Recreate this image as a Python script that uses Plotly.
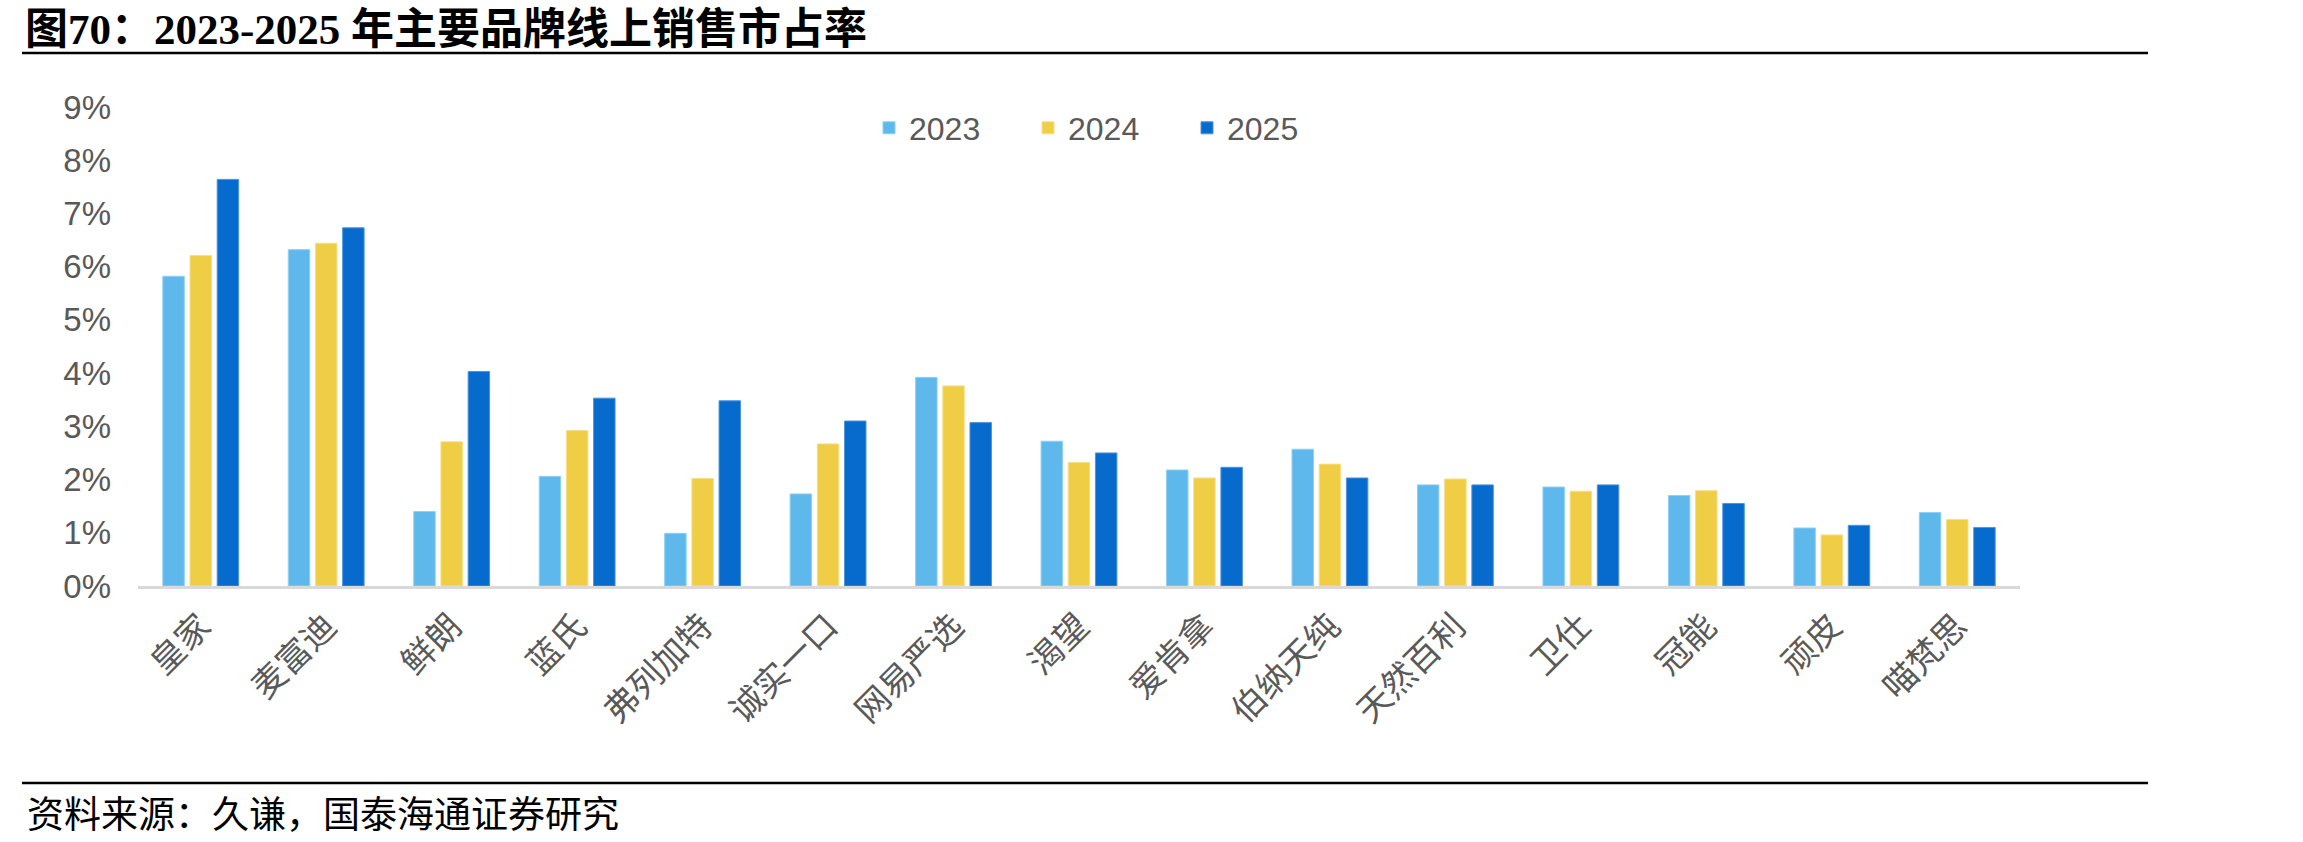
import plotly.graph_objects as go

# ---------------- data ----------------
brands = ["皇家", "麦富迪", "鲜朗", "蓝氏", "弗列加特", "诚实一口", "网易严选", "渴望",
          "爱肯拿", "伯纳天纯", "天然百利", "卫仕", "冠能", "顽皮", "喵梵思"]
share_2023 = [5.82, 6.32, 1.40, 2.06, 0.99, 1.73, 3.92, 2.72, 2.18, 2.57, 1.90, 1.86, 1.70, 1.09, 1.38]
share_2024 = [6.21, 6.44, 2.71, 2.92, 2.02, 2.67, 3.76, 2.32, 2.03, 2.29, 2.01, 1.78, 1.79, 0.96, 1.25]
share_2025 = [7.64, 6.73, 4.03, 3.53, 3.48, 3.10, 3.07, 2.50, 2.23, 2.03, 1.90, 1.90, 1.55, 1.14, 1.10]
series_names = ["2023", "2024", "2025"]
y_tick_vals = [0, 1, 2, 3, 4, 5, 6, 7, 8, 9]
y_tick_text = ["0%", "1%", "2%", "3%", "4%", "5%", "6%", "7%", "8%", "9%"]

title_text = "图70：2023-2025 年主要品牌线上销售市占率"
source_text = "资料来源：久谦，国泰海通证券研究"

# ---------------- layout geometry (pixels) ----------------
W, H = 2303, 842
PL, PR = 138, 2020      # plot area left/right
PT, PB = 107, 586       # plot area top/bottom

def px_x(px):
    return (px - PL) / (PR - PL)

def px_y(py):
    return (PB - py) / (PB - PT)

colors = ["#5EB8EC", "#EFCD45", "#066BCC"]
edge = ["#8FD0F5", "#F7DF86", "#4D95DB"]
tick_color = "#595959"
cjk = "Noto Sans CJK SC"

fig = go.Figure()
for name, vals, c, e in zip(series_names, [share_2023, share_2024, share_2025], colors, edge):
    fig.add_trace(go.Bar(
        x=brands, y=vals, name=name,
        marker=dict(color=c, line=dict(color=e, width=1)),
        hoverinfo="x+y+name",
    ))

fig.update_layout(
    width=W, height=H,
    autosize=False,
    margin=dict(l=PL, r=W - PR, t=PT, b=H - PB, pad=0, autoexpand=False),
    paper_bgcolor="white",
    plot_bgcolor="white",
    barmode="group",
    bargap=0.35,
    bargroupgap=0.21,
    showlegend=True,
    legend=dict(
        orientation="h",
        xref="container", yref="container",
        x=869 / W, y=1 - 128 / H,
        xanchor="left", yanchor="middle",
        font=dict(family="Liberation Sans, Arial, sans-serif", size=32, color=tick_color),
        entrywidth=114, entrywidthmode="pixels",
        bgcolor="rgba(0,0,0,0)",
        itemclick=False, itemdoubleclick=False,
    ),
    title=dict(
        text=title_text,
        xref="container", yref="container",
        x=25 / W, y=1 - 29 / H,
        xanchor="left", yanchor="middle",
        font=dict(family="Liberation Serif, " + cjk, size=43, color="black", weight="bold"),
    ),
    xaxis=dict(
        type="category",
        showline=True, linecolor="#D9D9D9", linewidth=2.5,
        showgrid=False, zeroline=False,
        ticks="", tickangle=-45,
        tickfont=dict(family=cjk, size=34, color=tick_color),
        ticklabelstandoff=4,
    ),
    yaxis=dict(
        range=[0, 9],
        tickvals=y_tick_vals, ticktext=y_tick_text,
        showline=False, showgrid=False, zeroline=False,
        ticks="",
        tickfont=dict(family="Liberation Sans, Arial, sans-serif", size=33, color=tick_color),
        ticklabelstandoff=26,
    ),
    shapes=[
        dict(type="line", xref="paper", yref="paper",
             x0=px_x(22), x1=px_x(2148), y0=px_y(53), y1=px_y(53),
             line=dict(color="black", width=2.5)),
        dict(type="line", xref="paper", yref="paper",
             x0=px_x(22), x1=px_x(2148), y0=px_y(783), y1=px_y(783),
             line=dict(color="black", width=2.5)),
    ],
    annotations=[
        dict(text=source_text, xref="paper", yref="paper",
             x=px_x(25), y=px_y(812), xanchor="left", yanchor="middle",
             showarrow=False,
             font=dict(family=cjk, size=37, color="black")),
    ],
)

fig.write_html("out.html")
